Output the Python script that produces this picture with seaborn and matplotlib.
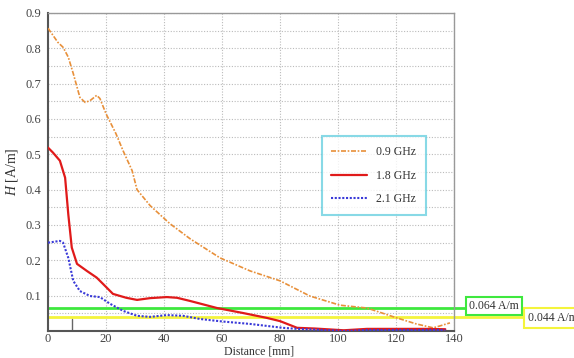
import numpy as np
import pandas as pd
import matplotlib
matplotlib.use("Agg")
import matplotlib.pyplot as plt
import seaborn as sns

# ---- data ----
x_09 = [0, 3.4, 5.2, 7, 8.7, 11, 12.8, 14.5, 16.8, 17.9, 20, 23.4, 25.9, 29, 30.7,
        35.2, 42, 49, 59.3, 69.7, 80, 90.3, 100.7, 110, 120.3, 127, 132.8, 135, 138.6]
h_09 = [0.857, 0.817, 0.803, 0.775, 0.729, 0.661, 0.647, 0.652, 0.667, 0.658, 0.615,
        0.559, 0.51, 0.454, 0.40, 0.355, 0.304, 0.261, 0.207, 0.17, 0.142, 0.099,
        0.073, 0.065, 0.037, 0.02, 0.009, 0.014, 0.023]

x_18 = [0, 1.7, 4.1, 5.9, 7, 8.2, 10, 13.4, 16.8, 19, 22.4, 27, 30.7, 35.2, 41,
        44.5, 49, 58.3, 67.2, 75.5, 80, 85.9, 92, 98, 102, 110, 120, 130, 137]
h_18 = [0.519, 0.505, 0.482, 0.434, 0.33, 0.236, 0.19, 0.17, 0.151, 0.133, 0.105,
        0.094, 0.088, 0.093, 0.096, 0.094, 0.085, 0.065, 0.051, 0.037, 0.028, 0.009,
        0.007, 0.004, 0.002, 0.006, 0.006, 0.006, 0.005]

x_21 = [0, 4.1, 5.2, 7, 8.7, 11, 14.5, 17.9, 21.4, 25.9, 30.7, 35.2, 41, 46.6,
        52.4, 60, 69.7, 81, 85.9, 95, 102, 110, 121, 130, 137]
h_21 = [0.25, 0.255, 0.25, 0.207, 0.142, 0.113, 0.099, 0.096, 0.077, 0.057, 0.043,
        0.04, 0.045, 0.043, 0.034, 0.027, 0.02, 0.009, 0.006, 0.003, 0.0, 0.003,
        0.003, 0.003, 0.003]

labels = ["0.9 GHz", "1.8 GHz", "2.1 GHz"]
limit_green = 0.064
limit_yellow = 0.039
limit_labels = ["0.064 A/m", "0.044 A/m"]

df = pd.concat([
    pd.DataFrame({"Distance": x_09, "H": h_09, "Freq": labels[0]}),
    pd.DataFrame({"Distance": x_18, "H": h_18, "Freq": labels[1]}),
    pd.DataFrame({"Distance": x_21, "H": h_21, "Freq": labels[2]}),
])

sns.set_theme(style="white")
plt.rcParams['font.family'] = ['Liberation Serif', 'DejaVu Serif']
plt.rcParams['mathtext.fontset'] = 'custom'
plt.rcParams['mathtext.it'] = 'Liberation Serif:italic'
plt.rcParams['mathtext.rm'] = 'Liberation Serif'

fig = plt.figure(figsize=(5.74, 3.58), dpi=100)
ax = fig.add_axes([48/574, 1-331/358, (454-48)/574, (331-13)/358])

# limit lines
ax.plot([0, 144.5], [limit_green]*2, color="#3ee83e", lw=2.0, clip_on=False, zorder=2)
ax.plot([0, 164.5], [limit_yellow]*2, color="#f4f43c", lw=2.0, clip_on=False, zorder=2)

styles = {labels[0]: dict(color="#e8903a", ls=(0, (3, 1, 1, 1)), lw=1.2),
          labels[1]: dict(color="#e01a1a", ls="-", lw=1.6),
          labels[2]: dict(color="#3a3ad8", ls=(0, (1, 0.8)), lw=1.5)}
for lab in labels:
    sub = df[df.Freq == lab]
    sns.lineplot(data=sub, x="Distance", y="H", ax=ax, label=lab,
                 color=styles[lab]["color"], linestyle=styles[lab]["ls"],
                 lw=styles[lab]["lw"], zorder=3)

ax.set_xlim(0, 140)
ax.set_ylim(0, 0.9)
ax.set_xticks(np.arange(0, 141, 20))
ax.set_yticks(np.arange(0.1, 0.91, 0.1))
ax.set_yticks(np.arange(0.05, 0.9, 0.1), minor=True)
ax.grid(True, which="major", color="#bbbbbb", ls=(0, (1, 1.5)), lw=0.8)
ax.grid(True, which="minor", axis="y", color="#bbbbbb", ls=(0, (1, 1.5)), lw=0.8)
ax.tick_params(axis="both", labelsize=9, colors="#444444", length=0)
ax.tick_params(axis="x", pad=1.5)
ax.tick_params(axis="y", pad=5)
ax.tick_params(which="minor", length=0)

for s in ["top", "right"]:
    ax.spines[s].set_color("#999999")
    ax.spines[s].set_linewidth(1.0)
for s in ["left", "bottom"]:
    ax.spines[s].set_color("#555555")
    ax.spines[s].set_linewidth(1.5)

# small marker tick near x=8
ax.plot([8.2, 8.2], [0, 0.035], color="#666666", lw=1.0, zorder=2)

ax.set_xlabel("Distance [mm]", fontsize=8.5, color="#333333")
ax.xaxis.set_label_coords(0.52, -0.046)
ax.set_ylabel(r"$\mathit{H}$ [A/m]", fontsize=10, color="#333333", labelpad=4)

leg = ax.legend(loc="upper left", bbox_to_anchor=(0.675, 0.612), frameon=True,
                fancybox=False, fontsize=8.5, handlelength=3.0, borderpad=0.8,
                labelspacing=1.0, handletextpad=0.8, borderaxespad=0)
leg.get_frame().set_edgecolor("#6ad0e0")
leg.get_frame().set_linewidth(1.5)
for t in leg.get_texts():
    t.set_color("#333333")

fig.text(469/574, 1-306/358, limit_labels[0], fontsize=8.5, color="#333333",
         va="center", ha="left",
         bbox=dict(boxstyle="square,pad=0.25", fc="white", ec="#3ee83e", lw=1.5))
fig.text(528/574, 1-318/358, limit_labels[1], fontsize=8.5, color="#333333",
         va="center", ha="left",
         bbox=dict(boxstyle="square,pad=0.3", fc="white", ec="#f4f43c", lw=1.5))

fig.savefig("out.png", dpi=100)
